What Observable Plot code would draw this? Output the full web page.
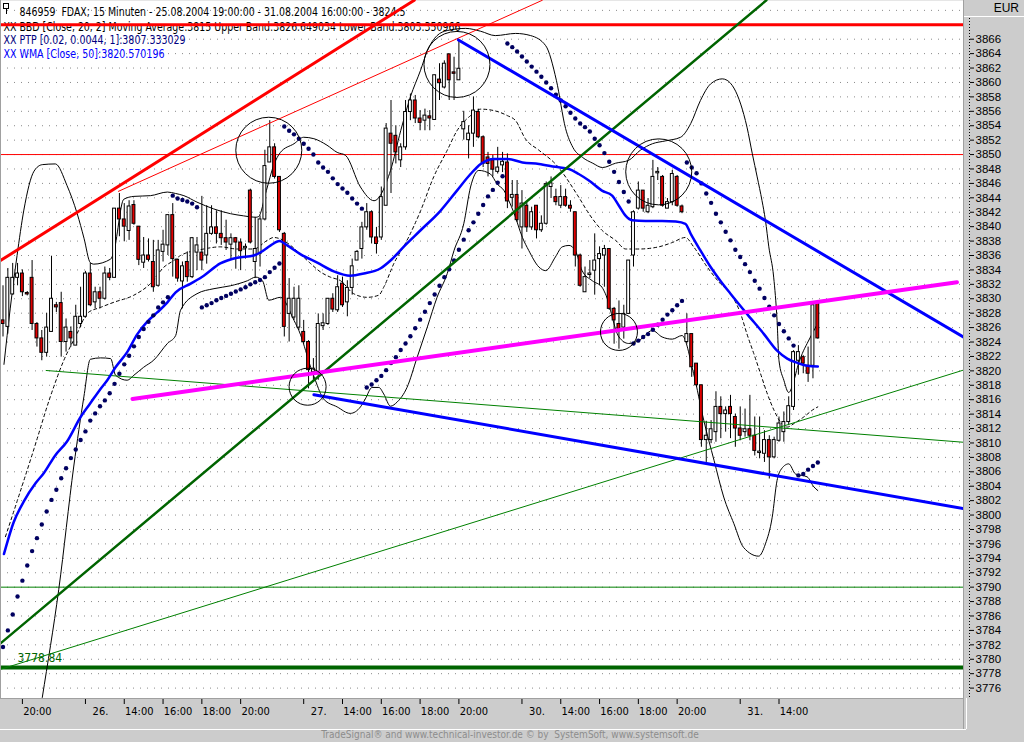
<!DOCTYPE html>
<html><head><meta charset="utf-8">
<script src="https://cdn.jsdelivr.net/npm/d3@7"></script>
<script src="https://cdn.jsdelivr.net/npm/@observablehq/plot@0.6"></script>
<style>
html,body{margin:0;padding:0;background:#cccccc;}
#chart{position:relative;width:1024px;height:742px;overflow:hidden;background:#cccccc;}
#chart svg{position:absolute;left:0;top:0;}
.footer{position:absolute;left:0;width:1020px;top:729px;text-align:center;font:10px "Liberation Sans Narrow","DejaVu Sans Condensed",sans-serif;color:#8c8c8c;white-space:pre;}
.eur{position:absolute;right:5px;top:1px;font:12px "Liberation Sans","DejaVu Sans",sans-serif;color:#000;}
</style></head><body><div id="chart"></div>
<script>
// ---------- DATA (bar index i = 15-minute bar, 0 = 25.08.2004 19:00) ----------
const opens = [
3827.0,3826.1,3830.6,3832.9,3833.5,3830.8,3832.9,3826.5,3824.5,3822.5,
3825.4,3829.1,3829.4,3824.0,3825.4,3823.5,3826.5,3827.5,3833.5,3829.5,
3830.9,3830.0,3833.5,3832.9,3842.5,3841.0,3839.4,3843.0,3840.0,3835.0,
3836.0,3835.1,3831.8,3836.5,3837.4,3841.6,3835.4,3832.4,3835.1,3833.0,
3836.4,3836.4,3836.0,3839.0,3839.9,3839.0,3838.4,3837.5,3838.4,3837.8,
3837.0,3845.0,3835.1,3836.2,3841.0,3848.9,3851.0,3846.9,3839.0,3827.9,
3827.4,3826.0,3825.4,3824.0,3819.8,3819.6,3826.2,3826.5,3830.0,3828.4,
3832.1,3829.5,3831.5,3835.3,3836.9,3839.9,3842.0,3838.5,3838.5,3842.9,
3852.9,3852.6,3849.2,3851.0,3855.9,3857.5,3855.0,3854.7,3855.3,3854.8,
3860.4,3859.3,3863.9,3861.4,3860.3,3853.5,3852.0,3852.9,3855.9,3852.4,
3849.6,3849.2,3847.6,3848.5,3848.9,3844.0,3844.4,3839.9,3842.9,3839.9,
3842.9,3839.5,3840.4,3845.5,3844.1,3842.9,3844.1,3842.9,3842.0,3836.0,
3830.9,3833.3,3833.9,3835.5,3836.0,3836.9,3828.6,3826.5,3826.0,3827.9,
3836.0,3842.5,3845.0,3842.0,3842.7,3847.4,3846.9,3842.5,3843.4,3846.9,
3842.8,3824.0,3825.1,3821.0,3818.0,3810.4,3810.4,3811.5,3815.0,3814.0,
3815.0,3813.6,3812.0,3811.5,3811.9,3811.0,3808.6,3808.5,3810.4,3808.0,
3810.3,3811.5,3812.9,3815.0,3821.4,3821.9,3820.7,3820.7,3829.5];
const highs = [
3831.8,3834.2,3834.9,3834.9,3834.0,3831.0,3835.3,3826.7,3825.6,3828.0,
3835.9,3829.5,3830.9,3827.2,3826.1,3829.1,3831.6,3833.8,3834.9,3831.6,
3831.6,3834.4,3834.2,3842.5,3844.6,3843.2,3843.6,3843.6,3840.0,3838.5,
3838.3,3838.1,3838.1,3839.5,3841.6,3843.2,3835.5,3835.1,3836.5,3838.5,
3838.5,3844.2,3842.9,3842.9,3842.2,3842.2,3840.9,3839.0,3838.5,3838.3,
3837.6,3845.2,3841.3,3841.5,3850.6,3854.7,3851.5,3846.9,3839.2,3832.8,
3831.6,3831.8,3827.0,3824.2,3821.7,3827.9,3827.9,3830.0,3830.7,3833.2,
3833.0,3832.5,3835.5,3836.7,3840.6,3843.2,3842.2,3839.9,3845.5,3854.3,
3857.5,3854.0,3851.5,3857.5,3858.4,3858.2,3856.1,3856.3,3856.1,3861.0,
3862.6,3863.0,3863.9,3863.5,3865.9,3856.0,3854.0,3858.0,3856.3,3852.6,
3850.3,3849.9,3851.0,3850.3,3850.1,3846.4,3846.4,3845.0,3843.4,3842.7,
3842.9,3841.5,3846.2,3846.9,3845.2,3845.7,3845.2,3843.6,3842.0,3836.2,
3834.4,3835.3,3839.0,3837.2,3837.4,3836.9,3828.8,3829.7,3829.1,3835.3,
3842.2,3846.2,3845.0,3843.9,3849.2,3848.2,3847.1,3843.9,3847.8,3847.1,
3843.0,3827.9,3825.1,3821.0,3818.0,3813.0,3813.1,3817.1,3816.4,3815.0,
3816.6,3814.0,3815.0,3814.7,3816.6,3813.6,3813.6,3811.7,3811.0,3810.8,
3813.6,3814.3,3816.4,3822.8,3823.5,3822.1,3823.3,3829.1,3829.5];
const lows = [
3824.7,3825.1,3830.5,3831.8,3830.3,3830.4,3825.6,3823.3,3821.4,3821.9,
3825.4,3828.1,3821.9,3822.6,3823.3,3823.5,3826.0,3827.3,3828.9,3828.6,
3828.6,3829.8,3832.5,3832.9,3838.6,3837.9,3838.1,3840.2,3834.6,3834.2,
3835.1,3830.9,3831.6,3835.1,3836.0,3833.0,3832.3,3828.6,3832.3,3832.8,
3833.9,3833.9,3834.8,3838.8,3837.6,3837.4,3836.7,3835.3,3834.1,3833.9,
3835.5,3837.6,3832.8,3834.4,3840.8,3848.9,3846.6,3839.2,3824.7,3824.0,
3827.0,3825.6,3823.7,3817.5,3818.7,3818.7,3825.6,3826.3,3828.1,3828.1,
3828.8,3827.5,3830.5,3835.3,3835.5,3839.5,3837.6,3836.2,3838.1,3842.9,
3844.6,3848.7,3848.2,3850.6,3854.7,3854.3,3853.3,3853.3,3853.3,3854.8,
3857.5,3859.1,3857.5,3857.5,3860.3,3852.0,3849.4,3851.0,3852.2,3848.2,
3846.9,3846.9,3847.3,3847.5,3842.5,3842.7,3840.6,3836.9,3839.2,3839.5,
3838.3,3839.2,3840.2,3843.9,3842.9,3842.5,3842.7,3842.0,3834.4,3831.6,
3830.9,3832.8,3830.5,3831.8,3831.6,3828.4,3823.7,3823.0,3824.4,3827.9,
3834.4,3842.3,3842.0,3841.8,3842.5,3846.4,3842.7,3842.5,3842.9,3842.7,
3841.8,3823.7,3819.1,3817.7,3809.4,3807.3,3809.9,3810.1,3810.6,3811.5,
3810.6,3809.4,3810.3,3810.8,3810.3,3808.2,3807.8,3807.3,3805.0,3807.8,
3810.1,3810.1,3812.4,3814.5,3819.4,3819.6,3818.4,3818.9,3824.4];
const closes = [
3826.5,3832.9,3832.9,3833.5,3830.9,3830.6,3826.5,3824.5,3822.5,3826.0,
3830.0,3828.8,3824.0,3826.0,3824.5,3827.5,3827.5,3833.5,3829.1,3830.9,
3830.0,3833.5,3832.9,3842.5,3841.0,3840.0,3842.8,3840.4,3835.4,3836.0,
3835.4,3831.6,3836.7,3837.5,3841.6,3835.5,3832.8,3834.5,3833.0,3838.4,
3837.4,3835.3,3839.0,3839.9,3839.0,3838.4,3837.8,3838.4,3837.8,3836.6,
3837.2,3837.8,3836.9,3841.0,3848.4,3851.0,3846.9,3839.5,3826.1,3830.0,
3830.0,3830.0,3824.0,3820.1,3820.3,3826.5,3826.6,3830.0,3828.5,3831.6,
3829.1,3831.5,3834.5,3836.5,3839.9,3842.0,3838.5,3837.6,3844.1,3853.6,
3851.5,3850.3,3851.0,3855.9,3857.5,3855.0,3854.4,3855.4,3855.0,3861.0,
3859.9,3862.6,3860.3,3861.2,3861.9,3854.5,3852.9,3856.1,3852.4,3848.7,
3848.7,3847.9,3848.2,3849.0,3843.5,3844.4,3840.9,3843.2,3839.9,3842.0,
3839.5,3840.4,3845.9,3846.0,3843.4,3844.1,3842.9,3842.5,3836.0,3831.8,
3833.0,3833.5,3835.3,3836.2,3836.9,3828.6,3827.0,3825.8,3827.9,3835.3,
3842.0,3845.0,3842.5,3842.9,3846.9,3847.6,3842.9,3843.4,3847.3,3842.9,
3842.0,3825.1,3820.5,3818.0,3810.4,3811.0,3811.9,3815.0,3814.0,3814.5,
3814.0,3812.0,3811.0,3811.9,3811.0,3808.9,3808.8,3810.4,3808.0,3810.4,
3812.7,3812.9,3815.1,3822.6,3822.6,3821.0,3819.6,3829.1,3824.5];
// PTP (parabolic) value per bar
const ptp = [
3781.7,3784.0,3786.2,3788.7,3790.9,3793.0,3795.0,3796.8,3798.7,3800.5,
3802.1,3803.5,3805.1,3806.5,3807.9,3809.1,3810.4,3811.6,3813.1,3814.1,
3815.1,3815.9,3816.9,3818.2,3819.6,3820.9,3822.1,3823.4,3824.7,3825.8,
3826.8,3827.7,3828.8,3829.5,3830.2,3844.3,3843.9,3843.7,3843.5,3843.2,
3842.7,3828.8,3829.1,3829.4,3829.8,3830.1,3830.4,3830.7,3831.0,3831.3,
3831.6,3832.0,3832.3,3832.6,3833.0,3833.7,3834.3,3834.9,3853.9,3853.3,
3852.8,3852.2,3851.5,3850.8,3850.0,3848.9,3848.2,3847.6,3846.7,3845.9,
3845.3,3844.7,3843.9,3843.2,3842.5,3817.7,3818.1,3818.7,3819.3,3820.1,
3821.1,3821.9,3822.9,3823.8,3824.8,3825.9,3827.1,3828.2,3829.4,3830.6,
3831.8,3833.0,3834.1,3835.3,3836.8,3838.2,3839.5,3840.6,3841.8,3843.0,
3844.2,3845.1,3846.1,3847.0,3865.4,3864.9,3864.3,3863.6,3862.9,3862.2,
3861.5,3860.8,3860.0,3859.2,3858.3,3857.5,3856.7,3855.8,3855.0,3854.3,
3853.8,3853.2,3852.2,3851.3,3850.2,3849.0,3847.6,3846.2,3844.8,3843.5,
3823.8,3824.2,3824.7,3825.1,3825.7,3826.4,3827.1,3827.8,3828.4,3829.1,
3829.7,3848.9,3848.2,3847.4,3846.0,3844.6,3843.3,3841.8,3840.6,3839.3,
3838.1,3836.8,3835.8,3834.8,3833.7,3832.5,3831.4,3830.1,3828.9,3827.7,
3826.5,3825.5,3824.5,3823.5,3805.5,3805.7,3806.3,3806.8,3807.3];
// WMA [Close, 50] read at sample bars
const wma = [[0.2,3794.6],[2.2,3799.0],[4.3,3801.9],[6.7,3804.4],[8.4,3805.8],[10.8,3808.3],[13.2,3810.2],[16.0,3813.6],[18.0,3815.5],[20.1,3817.5],[21.5,3818.7],[23.2,3820.5],[25.6,3822.6],[27.7,3825.1],[29.7,3826.8],[31.8,3828.1],[33.9,3829.5],[35.6,3830.9],[38.7,3832.1],[41.4,3833.2],[44.8,3834.9],[48.3,3835.7],[51.7,3836.0],[53.5,3836.6],[55.2,3837.4],[57.0,3838.0],[58.6,3837.4],[61.3,3836.2],[64.8,3835.0],[68.2,3833.8],[71.6,3833.2],[74.4,3833.5],[77.8,3834.2],[79.9,3835.3],[82.6,3837.2],[86.1,3839.5],[90.2,3842.2],[93.6,3845.0],[96.4,3847.3],[98.5,3848.7],[101.2,3849.4],[104.0,3849.4],[107.1,3848.9],[110.5,3848.7],[113.9,3848.3],[116.7,3848.0],[118.7,3847.3],[120.8,3846.4],[123.5,3845.0],[125.6,3844.3],[127.0,3842.9],[128.4,3841.5],[129.7,3840.9],[132.5,3840.8],[135.9,3840.8],[138.7,3840.7],[140.7,3840.4],[141.8,3839.0],[143.8,3836.7],[145.9,3834.4],[147.9,3832.5],[150.0,3830.7],[153.4,3827.9],[156.9,3825.1],[159.6,3822.8],[161.7,3821.7],[163.8,3821.1],[165.8,3820.7],[168,3820.6]];
// Bollinger bands [Close, 20, 2]
const bbUpper = [[0.2,3820.9],[1.5,3828.7],[2.9,3836.0],[4.3,3842.3],[6.4,3847.7],[8.1,3848.6],[10.8,3848.7],[13.2,3845.7],[15.3,3841.8],[16.7,3838.4],[18.0,3835.0],[18.7,3834.8],[22.2,3835.5],[22.8,3836.4],[24.9,3843.8],[27.0,3844.2],[30.4,3844.3],[33.9,3844.8],[35.6,3844.6],[37.3,3844.3],[40.0,3843.4],[46.9,3841.8],[49.6,3841.5],[52.1,3841.3],[52.7,3841.4],[54.3,3845.0],[55.8,3848.5],[57.2,3850.3],[60.0,3851.5],[62.0,3852.4],[64.1,3852.2],[66.8,3851.3],[68.9,3850.3],[70.6,3849.9],[73.7,3845.5],[76.5,3843.6],[79.9,3847.8],[82.0,3853.3],[84.0,3858.0],[86.1,3861.7],[87.5,3864.4],[89.5,3866.5],[91.6,3867.2],[95.4,3867.5],[98.5,3867.1],[101.5,3866.5],[105.7,3866.8],[108.8,3866.5],[111.9,3865.1],[114.1,3860.3],[116.0,3853.6],[117.5,3851.0],[119.5,3849.6],[121.6,3848.8],[123.6,3848.2],[126.3,3848.8],[129.0,3849.2],[131.4,3850.6],[133.9,3851.5],[136.6,3851.9],[139.7,3852.4],[141.8,3854.3],[143.8,3857.5],[145.9,3859.8],[148.3,3860.5],[149.3,3860.3],[152.1,3857.0],[153.4,3853.8],[154.5,3850.1],[155.5,3846.9],[156.5,3843.6],[157.2,3840.9],[157.9,3837.2],[158.9,3833.0],[159.6,3827.0],[160.0,3821.4],[161.0,3818.7],[162.0,3817.0],[163.1,3818.7],[163.8,3820.5],[164.8,3822.4],[165.8,3823.8],[166.8,3825.1],[168,3826.6]];
const bbMiddle = [[0.5,3797.0],[2.9,3801.9],[6.4,3809.2],[9.8,3816.5],[12.5,3821.4],[15.3,3825.2],[17.4,3828.0],[20.1,3828.8],[22.8,3829.5],[27.0,3830.5],[30.4,3832.1],[33.2,3834.4],[35.2,3835.3],[36.6,3836.0],[41.4,3836.9],[44.8,3837.2],[48.3,3836.9],[51.7,3836.9],[54.5,3838.1],[55.8,3838.5],[57.2,3838.3],[59.3,3837.4],[61.3,3836.2],[63.4,3834.9],[65.5,3833.7],[67.5,3833.0],[69.6,3832.5],[72.3,3830.7],[75.1,3830.2],[77.5,3830.5],[78.5,3831.6],[80.6,3834.9],[83.3,3838.1],[86.1,3842.2],[88.8,3846.9],[91.6,3850.6],[93.6,3853.3],[96.4,3855.4],[98.5,3856.3],[101.2,3856.1],[104.0,3855.4],[105.7,3854.7],[107.7,3852.2],[110.5,3850.6],[113.9,3848.7],[118.7,3844.1],[120.8,3841.8],[123.5,3839.5],[126.3,3838.1],[128.4,3836.9],[131.1,3836.9],[135.2,3837.2],[138.0,3837.8],[140.7,3838.5],[142.4,3837.2],[145.2,3834.4],[147.9,3832.1],[150.0,3830.7],[152.1,3827.9],[153.4,3825.1],[154.8,3822.4],[156.2,3819.6],[157.6,3816.8],[159.0,3814.5],[160.3,3812.9],[161.7,3812.2],[163.1,3812.7],[165.1,3813.6],[167.2,3814.7],[168,3815.0]];
const bbLower = [[7.0,3770.0],[8.1,3774.7],[11.5,3789.7],[14.6,3806.8],[16.7,3816.5],[18.0,3821.6],[20.1,3821.8],[22.2,3821.7],[23.2,3819.4],[25.6,3818.7],[27.0,3819.4],[29.0,3820.5],[31.1,3821.5],[33.9,3823.8],[35.6,3824.9],[36.6,3828.4],[40.0,3830.7],[43.5,3831.4],[46.9,3831.8],[50.4,3832.5],[52.1,3833.0],[53.5,3832.5],[54.8,3829.8],[57.2,3830.2],[60.0,3827.0],[61.3,3825.1],[62.4,3822.8],[63.1,3821.2],[64.4,3818.7],[66.1,3816.1],[68.9,3815.0],[71.6,3814.1],[73.7,3815.0],[74.7,3816.1],[76.1,3817.7],[77.5,3817.7],[78.5,3816.8],[79.9,3815.1],[81.3,3815.7],[83.3,3817.7],[85.4,3821.9],[87.5,3826.1],[89.5,3830.2],[91.6,3833.5],[93.0,3836.7],[95.0,3840.4],[96.4,3845.5],[98.1,3847.8],[100.5,3847.3],[101.9,3845.9],[103.3,3845.0],[104.3,3843.6],[105.3,3842.0],[107.1,3838.5],[108.4,3836.7],[110.5,3834.4],[111.9,3833.9],[113.9,3835.8],[115.3,3837.2],[116.7,3837.4],[118.0,3836.7],[119.4,3833.9],[121.5,3832.5],[123.5,3831.6],[124.2,3830.7],[127.0,3824.7],[129.0,3823.8],[131.1,3824.2],[133.9,3825.6],[135.9,3824.7],[138.0,3824.4],[140.0,3824.9],[142.4,3819.6],[144.5,3813.1],[146.6,3807.6],[148.6,3802.5],[150.7,3798.8],[152.7,3795.5],[155.8,3794.3],[157.2,3796.0],[158.6,3799.7],[159.6,3804.8],[160.3,3806.2],[162.0,3807.1],[163.4,3805.7],[165.8,3805.3],[167.2,3803.9],[168,3803.4]];
// Drawn trend lines (bar index, price)
const redThick = [[-0.52,3835.3],[84.8,3871.4]];
const redThin = [[23.8,3844.9],[111.2,3871.4]];
const greenThick = [[-0.52,3782.2],[157.4,3871.4]];
const greenThinUp = [[-0.52,3778.6],[198.0,3820.1]];
const greenThinDown = [[8.9,3820.05],[198.0,3810.1]];
const blueUpper = [[93.9,3865.9],[198.0,3824.7]];
const blueLower = [[64.1,3816.7],[198.0,3800.9]];
const magentaLine = [[26.7,3816.1],[196.7,3832.3]];
const hRedThick = 3868, hRedThin = 3850, hGreenThin = 3790, hGreenThick = 3778.84;
const bigCircles = [[54.8,3850.6],[93.6,3862.5],[135.2,3847.6]];
const smallCircles = [[62.8,3817.8],[127.0,3825.4]];
// Axes
const xTickIdx = [4,17,25,33,41,49,62,70,78,86,94,107,115,123,131,139,152,160];
const xTickLabels = ["20:00","26.","14:00","16:00","18:00","20:00","27.","14:00","16:00","18:00","20:00","30.","14:00","16:00","18:00","20:00","31.","14:00"];
const yTicks = [3776,3778,3780,3782,3784,3786,3788,3790,3792,3794,3796,3798,3800,3802,3804,3806,3808,3810,3812,3814,3816,3818,3820,3822,3824,3826,3828,3830,3832,3834,3836,3838,3840,3842,3844,3846,3848,3850,3852,3854,3856,3858,3860,3862,3864,3866];
const gridVals = yTicks.concat([3868,3870]);
const legendLines = [
  "846959  FDAX; 15 Minuten - 25.08.2004 19:00:00 - 31.08.2004 16:00:00 - 3824.5",
  "XX BBD [Close, 20, 2] Moving Average:3815 Upper Band:3826.649034 Lower Band:3803.350966",
  "XX PTP [0.02, 0.0044, 1]:3807.333029",
  "XX WMA [Close, 50]:3820.570196"];
const legendColors = ["#000000","#000000","#000080","#0000ff"];
const legendWidths = [386, 457, 182, 161];

// ---------- CHART ----------
const NARROW = '"Liberation Sans Narrow","DejaVu Sans Condensed","Arial Narrow",sans-serif';
const bars = opens.map((o, i) => ({i, open: o, high: highs[i], low: lows[i], close: closes[i]}));
const P = d => d[0], V = d => d[1];
const legendY = [7, 21.5, 34.5, 48.5];
const legendX = [19, 3, 3, 3];

const svg = Plot.plot({
  width: 1024, height: 742,
  marginLeft: 0, marginRight: 61, marginTop: 0, marginBottom: 44,
  x: {domain: [-0.5155, 198.04]},
  y: {domain: [3774.557, 3871.368]},
  style: {background: "transparent", fontFamily: NARROW, fontSize: "11px", overflow: "visible"},
  marks: [
    Plot.frame({fill: "white", stroke: "none"}),
    Plot.ruleY(gridVals, {stroke: "#8a8a8a", strokeDasharray: "1,6"}),
    // legend text (below the drawn lines)
    ...legendLines.map((t, k) => Plot.text([t], {text: d => d, frameAnchor: "top-left", dx: legendX[k], dy: legendY[k], textAnchor: "start", fill: legendColors[k], fontSize: 12})),
    // horizontal lines
    Plot.ruleY([hRedThick], {stroke: "#ff0000", strokeWidth: 3}),
    Plot.ruleY([hRedThin], {stroke: "#ff0000", strokeWidth: 1}),
    Plot.ruleY([hGreenThin], {stroke: "#008000", strokeWidth: 1}),
    Plot.ruleY([hGreenThick], {stroke: "#006400", strokeWidth: 4}),
    Plot.text([hGreenThick], {y: d => d, text: d => d.toFixed(2), frameAnchor: "left", dx: 17, dy: -9, textAnchor: "start", fill: "#006400", fontSize: 12}),
    // Bollinger
    Plot.line(bbUpper, {x: P, y: V, stroke: "black", strokeWidth: 1, curve: "monotone-x", clip: true}),
    Plot.line(bbLower, {x: P, y: V, stroke: "black", strokeWidth: 1, curve: "monotone-x", clip: true}),
    Plot.line(bbMiddle, {x: P, y: V, stroke: "black", strokeWidth: 1, strokeDasharray: "3,3", curve: "monotone-x", clip: true}),
    // candles
    Plot.ruleX(bars, {x: "i", y1: "low", y2: "high", stroke: "black", strokeWidth: 1}),
    Plot.rect(bars, {x1: d => d.i - 0.3, x2: d => d.i + 0.3, y1: d => Math.min(d.open, d.close), y2: d => Math.max(d.open, d.close),
      fill: d => d.close < d.open ? "#e00000" : "white", stroke: "black", strokeWidth: 1}),
    // thin trend lines
    Plot.line(redThin, {x: P, y: V, stroke: "#ff0000", strokeWidth: 1, clip: true}),
    Plot.line(greenThinUp, {x: P, y: V, stroke: "#008000", strokeWidth: 1, clip: true}),
    Plot.line(greenThinDown, {x: P, y: V, stroke: "#008000", strokeWidth: 1, clip: true}),
    // WMA and PTP
    Plot.line(wma, {x: P, y: V, stroke: "#0000ff", strokeWidth: 2.5, curve: "monotone-x"}),
    Plot.dot(ptp, {x: (d, i) => i, y: d => d, r: 2.2, fill: "#000060", stroke: "none"}),
    // thick trend lines
    Plot.line(redThick, {x: P, y: V, stroke: "#ff0000", strokeWidth: 3, clip: true}),
    Plot.line(greenThick, {x: P, y: V, stroke: "#006400", strokeWidth: 2.5, clip: true}),
    Plot.line(blueUpper, {x: P, y: V, stroke: "#0000ff", strokeWidth: 3, clip: true}),
    Plot.line(blueLower, {x: P, y: V, stroke: "#0000ff", strokeWidth: 3, clip: true}),
    Plot.line(magentaLine, {x: P, y: V, stroke: "#ff00ff", strokeWidth: 4, clip: true}),
    // circles
    Plot.dot(bigCircles, {x: P, y: V, r: 33, stroke: "black", strokeWidth: 1, fill: "none"}),
    Plot.dot(smallCircles, {x: P, y: V, r: 18.5, stroke: "black", strokeWidth: 1, fill: "none"}),
    // axes
    Plot.axisY(yTicks, {anchor: "right", tickSize: 4, tickPadding: 2, dx: 6, tickFormat: d => String(d), fontSize: 11.5, fontFamily: '"Liberation Sans","DejaVu Sans",sans-serif', label: null}),
    Plot.axisX(xTickIdx, {anchor: "bottom", tickSize: 6, tickFormat: () => "", label: null}),
    Plot.text(xTickIdx, {x: d => d, text: (d, i) => xTickLabels[i], frameAnchor: "bottom", lineAnchor: "top", dy: 9, dx: 15, fontSize: 11})
  ]
});

const chart = document.getElementById("chart");
chart.appendChild(svg);
const s = d3.select(svg);
// fit legend lines to their original widths (narrow screen font)
s.selectAll("text").filter(function() { return legendLines.includes(this.textContent); })
  .each(function() {
    const k = legendLines.indexOf(this.textContent);
    d3.select(this).attr("textLength", legendWidths[k]).attr("lengthAdjust", "spacingAndGlyphs");
  });
const deco = s.append("g").attr("shape-rendering", "crispEdges");
deco.append("line").attr("x1", 0).attr("x2", 964).attr("y1", 698.5).attr("y2", 698.5).attr("stroke", "#a0a0a0");
deco.append("line").attr("x1", 0.5).attr("x2", 0.5).attr("y1", 0).attr("y2", 698).attr("stroke", "#a0a0a0");
deco.append("line").attr("x1", 963.5).attr("x2", 963.5).attr("y1", 0).attr("y2", 729).attr("stroke", "#a0a0a0");
deco.append("line").attr("x1", 0).attr("x2", 966).attr("y1", 729.5).attr("y2", 729.5).attr("stroke", "#ffffff");
deco.append("line").attr("x1", 966.5).attr("x2", 966.5).attr("y1", 698).attr("y2", 729).attr("stroke", "#ffffff");
deco.append("line").attr("x1", 969.5).attr("x2", 969.5).attr("y1", 18).attr("y2", 698).attr("stroke", "#000").attr("stroke-dasharray", "1,2");
deco.append("line").attr("x1", 964).attr("x2", 1024).attr("y1", 16.5).attr("y2", 16.5).attr("stroke", "#ffffff");
// legend icon
deco.append("rect").attr("x", 3.5).attr("y", 3.5).attr("width", 5).attr("height", 5).attr("fill", "white").attr("stroke", "black");
deco.append("line").attr("x1", 6).attr("x2", 6).attr("y1", 9).attr("y2", 14).attr("stroke", "black");

const eur = document.createElement("div");
eur.className = "eur"; eur.textContent = "EUR";
chart.appendChild(eur);
const foot = document.createElement("div");
foot.className = "footer";
foot.textContent = "TradeSignal® and www.technical-investor.de © by  SystemSoft, www.systemsoft.de";
chart.appendChild(foot);
</script></body></html>
